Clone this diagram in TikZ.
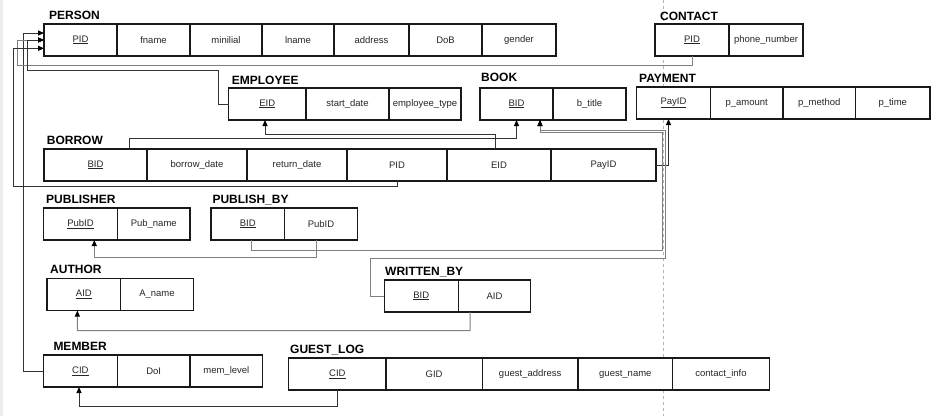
\documentclass[tikz,border=0pt]{standalone}
\usepackage{fontspec}
\setmainfont{Liberation Sans}
\usetikzlibrary{arrows.meta,calc}
\newcommand{\ecell}[6]{\node[cell, minimum width=#4pt-#2pt, minimum height=#5pt-#3pt] (#1) at (#2,#3) {#6};}
\begin{document}
\begin{tikzpicture}[x=1pt,y=-1pt,
  cell/.style={draw=black!90, line width=1.5pt, fill=white, inner sep=0pt, outer sep=0pt, anchor=north west, font=\fontsize{9.5}{11}\selectfont, text=black!85},
  ttl/.style={anchor=base west, inner sep=0pt, font=\bfseries\fontsize{12}{14}\selectfont},
  tip/.style={-{Triangle[length=6pt,width=5pt,color=black]}},
  dconn/.style={draw=black!80, line width=1pt, tip},
  gconn/.style={draw=black!50, line width=1pt, tip},
  guide/.style={draw=black!30, line width=0.8pt, dash pattern=on 3pt off 3pt}
]
\useasboundingbox (0,0) rectangle (936,416);
\fill[black!7] (0,0) rectangle (3,416);
\draw[guide] (663.3,0) -- (663.3,416);

% titles
\node[ttl] (t-person) at (49,19.7) {PERSON};
\node[ttl] (t-contact) at (660,20) {CONTACT};
\node[ttl] (t-employee) at (231.7,84) {EMPLOYEE};
\node[ttl] (t-book) at (481,81.7) {BOOK};
\node[ttl] (t-payment) at (639,82) {PAYMENT};
\node[ttl] (t-borrow) at (46.7,144) {BORROW};
\node[ttl] (t-publisher) at (46,203.3) {PUBLISHER};
\node[ttl] (t-publishby) at (212.3,203.3) {PUBLISH\_BY};
\node[ttl] (t-author) at (50,273.3) {AUTHOR};
\node[ttl] (t-writtenby) at (385,275.7) {WRITTEN\_BY};
\node[ttl] (t-member) at (53.3,350) {MEMBER};
\node[ttl] (t-guestlog) at (290,353.3) {GUEST\_LOG};

% PERSON
\ecell{person-pid}{44}{24}{117}{56}{\underline{PID}}
\ecell{person-fname}{117}{24}{190}{56}{fname}
\ecell{person-minit}{190}{24}{262}{56}{minilial}
\ecell{person-lname}{262}{24}{334}{56}{lname}
\ecell{person-address}{334}{24}{409}{56}{address}
\ecell{person-dob}{409}{24}{482}{56}{DoB}
\ecell{person-gender}{482}{24}{556}{56}{gender}
% CONTACT
\ecell{contact-pid}{655}{24}{729}{56}{\underline{PID}}
\ecell{contact-phone}{729}{24}{803}{56}{phone\_number}
% EMPLOYEE
\ecell{employee-eid}{228.5}{88}{306}{120}{\underline{EID}}
\ecell{employee-start}{306}{88}{389}{120}{start\_date}
\ecell{employee-type}{389}{88}{461}{120}{employee\_type}
% BOOK
\ecell{book-bid}{480}{88}{553}{120}{\underline{BID}}
\ecell{book-title}{553}{88}{626}{120}{b\_title}
% PAYMENT
\ecell{payment-payid}{636.5}{87}{710.5}{119}{\underline{PayID}}
\ecell{payment-amount}{710.5}{87}{783}{119}{p\_amount}
\ecell{payment-method}{783}{87}{855.5}{119}{p\_method}
\ecell{payment-time}{855.5}{87}{930}{119}{p\_time}
% BORROW
\ecell{borrow-bid}{44}{149}{147}{181}{\underline{BID}}
\ecell{borrow-bdate}{147}{149}{247}{181}{borrow\_date}
\ecell{borrow-rdate}{247}{149}{347}{181}{return\_date}
\ecell{borrow-pid}{347}{149}{447}{181}{PID}
\ecell{borrow-eid}{447}{149}{551}{181}{EID}
\ecell{borrow-payid}{551}{149}{656}{181}{PayID}
% PUBLISHER
\ecell{publisher-pubid}{43.5}{208}{117.5}{240}{\underline{PubID}}
\ecell{publisher-name}{117.5}{208}{190}{240}{Pub\_name}
% PUBLISH_BY
\ecell{pb-bid}{211}{208}{284.5}{240}{\underline{BID}}
\ecell{pb-pubid}{284.5}{208}{357.5}{240}{PubID}
% AUTHOR
\ecell{author-aid}{47}{278.5}{120.7}{310.5}{\underline{AID}}
\ecell{author-name}{120.7}{278.5}{193.3}{310.5}{A\_name}
% WRITTEN_BY
\ecell{wb-bid}{384.3}{280}{458.3}{312}{\underline{BID}}
\ecell{wb-aid}{458.3}{280}{530.7}{312}{AID}
% MEMBER
\ecell{member-cid}{43.5}{355}{117.3}{387}{\underline{CID}}
\ecell{member-doi}{117.3}{355}{190}{387}{DoI}
\ecell{member-level}{190}{355}{262.7}{387}{mem\_level}
% GUEST_LOG
\ecell{gl-cid}{288.7}{358}{386}{390}{\underline{CID}}
\ecell{gl-gid}{386}{358}{482.3}{390}{GID}
\ecell{gl-addr}{482.3}{358}{578}{390}{guest\_address}
\ecell{gl-name}{578}{358}{672.7}{390}{guest\_name}
\ecell{gl-contact}{672.7}{358}{769.3}{390}{contact\_info}

% connectors
\draw[dconn] (member-cid.west) -| (23.3,33) -- ($(person-pid.west)+(0,-7)$);
\draw[gconn] (contact-pid.south) -- ++(0,9) -| (17,40) -- (person-pid.west);
\draw[dconn] (employee-eid.west) -- ++(-10.5,0) |- (27.5,70) |- (person-pid.west);
\draw[dconn] (borrow-pid.south) -- ++(0,5.7) -| (13.3,48.3) -- ($(person-pid.west)+(0,8.3)$);
\draw[dconn] ($(borrow-eid.north)+(-4,0)$) |- (265,134.3) -- ($(employee-eid.south)+(-2.25,0)$);
\draw[dconn] ($(borrow-bid.north)+(34,0)$) |- (516.5,138.3) -- (book-bid.south);
\draw[dconn] (borrow-payid.east) -| ($(payment-payid.south)+(-5,0)$);
\draw[gconn] ($(pb-bid.south)+(4,0)$) |- (662.5,250) |- (540,132) -- ($(book-bid.south)+(23.5,0)$);
\draw[gconn] (wb-bid.west) -| (370.7,258) -| (665,130) -| ($(book-bid.south)+(23.5,0)$);
\draw[gconn] ($(pb-pubid.south)+(-4.3,0)$) |- (94.3,257.7) -- ($(publisher-pubid.south)+(13.8,0)$);
\draw[gconn] ($(wb-aid.south)+(-24.5,0)$) |- (77.3,330.7) -- ($(author-aid.south)+(-6.5,0)$);
\draw[dconn] (gl-cid.south) |- (79,406.7) -- ($(member-cid.south)+(-1.4,0)$);
\end{tikzpicture}
\end{document}
